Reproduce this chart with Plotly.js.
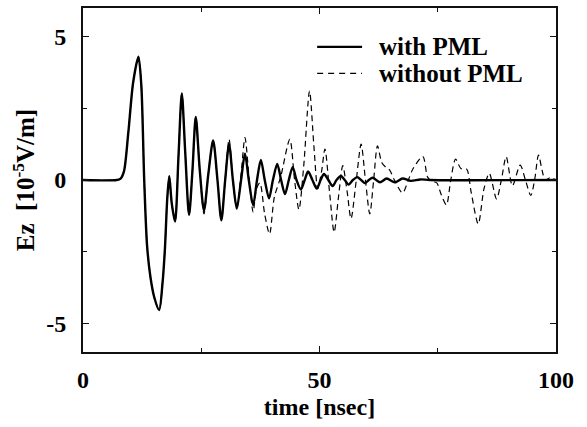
<!DOCTYPE html>
<html><head><meta charset="utf-8">
<script src="https://cdn.plot.ly/plotly-3.0.1.min.js"></script>
<style>html,body{margin:0;padding:0;background:#fff}#chart{width:587px;height:427px}</style>
</head><body><div id="chart"></div>
<script>
// with PML (solid)
const tWith = [0,7.13,7.95,8.66,9.58,10.6,11.72,12.33,12.94,13.55,14.27,15.08,16.1,16.81,17.32,17.83,18.24,18.75,19.46,20.18,20.89,21.6,22.42,23.13,23.84,24.66,25.58,26.49,27.51,28.43,29.25,30.06,30.88,31.69,32.51,33.42,34.24,35.05,35.97,36.79,37.6,38.42,39.33,40.15,41.07,41.88,42.7,43.51,44.33,45.14,46.06,46.87,47.59,48.5,49.42,50.24,50.95,51.87,52.78,53.6,54.52,55.33,56.15,57.06,57.98,58.8,59.61,60.43,61.24,62.77,64.2,65.93,67.56,69.29,71.33,73.37,100];
const vWith = [0,0,0.05,0.3,1.65,3.4,4.3,3.3,0,-2.3,-3.4,-4.1,-4.54,-3.6,-2.4,-0.6,0.13,-0.8,-1.45,0.8,3.02,1.0,-1.22,0.3,2.2,0.4,-1.07,0.2,1.38,0,-1.41,0,1.25,0,-1.0,0,0.92,0,-0.88,0,0.7,0,-0.64,0,0.56,0,-0.49,0,0.45,0,-0.33,0,0.3,0,-0.3,0,0.21,0,-0.21,0,0.14,0,-0.16,0,0.1,0,-0.11,0,0.08,-0.08,0.05,-0.08,0.05,-0.03,0.02,0,0];
// without PML (dashed)
const tWithout = [0,7.13,7.95,8.66,9.58,10.6,11.72,12.33,12.94,13.55,14.27,15.08,16.1,16.81,17.32,17.83,18.24,18.75,19.46,20.18,20.89,21.6,22.42,23.13,23.84,24.66,25.58,26.49,27.51,28.43,29.25,30.06,30.88,31.69,32.51,33.42,34.24,35.16,35.97,36.68,37.4,38.42,39.44,40.45,41.78,43.72,44.73,45.65,46.67,47.89,48.81,49.63,50.44,51.15,52.17,53.09,54.01,54.92,55.84,56.66,57.78,58.8,59.71,60.63,61.45,62.26,63.18,63.99,64.81,65.83,67.56,68.78,69.8,71.84,72.86,73.78,74.79,75.71,76.83,77.75,78.77,79.89,81.11,82.03,83.56,84.78,85.9,87.43,88.45,89.47,90.79,92.42,93.54,94.67,95.48,96.3,97.11,97.72,98.74,100];
const vWithout = [0,0,0.05,0.3,1.65,3.4,4.3,3.3,0,-2.3,-3.4,-4.1,-4.54,-3.6,-2.4,-0.6,0.13,-0.8,-1.45,0.8,3.02,1.0,-1.22,0.3,2.2,0.4,-1.18,0.2,1.38,0,-1.41,0,1.42,0,-1.0,0.2,1.48,0,-1.12,-0.3,-0.1,-1.2,-1.88,-0.6,0.1,1.42,0,-1.03,0.5,3.1,1.2,-0.3,0.3,1.08,-0.5,-1.82,-0.6,0.5,-0.4,-1.35,0,1.25,0,-1.18,0,1.19,0.6,0.45,0.35,0,-0.45,0,0.4,0.82,0.1,-0.05,-0.1,-0.5,-0.87,0,0.73,0.4,0.38,-0.4,-1.53,-0.3,0.23,-0.66,0,0.81,-0.2,0.52,0,-0.54,0,0.87,0.3,0,0.08,0];

const xTicks = [0,50,100];
const yTicks = [-5,0,5];
const seriesNames = ['with PML','without PML'];

const serif = 'Liberation Serif, Times New Roman, serif';
const traces = [
  {x:tWith, y:vWith, name:seriesNames[0], mode:'lines', line:{color:'#000', width:2.4, shape:'spline', smoothing:0.8}},
  {x:tWithout, y:vWithout, name:seriesNames[1], mode:'lines', line:{color:'#000', width:1.2, dash:'6px,4px', shape:'spline', smoothing:0.8}}
];
const axisCommon = {
  showgrid:false, zeroline:false, showline:true, linecolor:'#111', linewidth:2,
  mirror:'ticks', ticks:'inside', ticklen:6, tickwidth:1.2, tickcolor:'#111',
  tickfont:{family:serif, size:24, color:'#000', weight:'bold'}
};
// legend drawn with shapes + annotations (paper coordinates)
const legY = [0.887, 0.81];
const shapes = [
  {type:'line', xref:'paper', yref:'paper', x0:0.495, x1:0.59, y0:legY[0], y1:legY[0], line:{color:'#000', width:2.4}},
  {type:'line', xref:'paper', yref:'paper', x0:0.495, x1:0.59, y0:legY[1], y1:legY[1], line:{color:'#000', width:1.2, dash:'6px,5px'}}
];
const annotations = seriesNames.map((n,i)=>({
  text:n, xref:'paper', yref:'paper', x:0.622, y:legY[i], xanchor:'left', yanchor:'middle', showarrow:false,
  font:{family:serif, size:25, color:'#000', weight:'bold'}
}));
const layout = {
  width:587, height:427,
  margin:{l:83, r:31, t:8, b:75},
  paper_bgcolor:'#fff', plot_bgcolor:'#fff',
  showlegend:false, shapes, annotations,
  xaxis:Object.assign({}, axisCommon, {range:[0,100], tickvals:xTicks, ticktext:xTicks.map(String), ticklabelstandoff:5,
    minor:{tickvals:[25,75], ticks:'inside', ticklen:4, tickcolor:'#111', tickwidth:1.2},
    title:{text:'time [nsec]', font:{family:serif, size:24, color:'#000', weight:'bold'}, standoff:6}}),
  yaxis:Object.assign({}, axisCommon, {range:[-6,6], tickvals:yTicks, ticktext:yTicks.map(String), ticklabelstandoff:10,
    minor:{tickvals:[-2.5,2.5], ticks:'inside', ticklen:4, tickcolor:'#111', tickwidth:1.2},
    title:{text:'Ez&nbsp; [10<sup>-5</sup>V/m]', font:{family:serif, size:25, color:'#000', weight:'bold'}, standoff:4}})
};
Plotly.newPlot('chart', traces, layout, {staticPlot:true, displayModeBar:false});
</script></body></html>
